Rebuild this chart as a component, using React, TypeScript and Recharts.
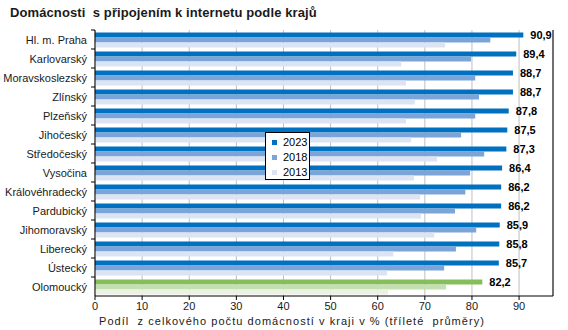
import React from 'react'
import {
  BarChart,
  Bar,
  XAxis,
  YAxis,
  CartesianGrid,
  LabelList,
  Cell,
  ReferenceLine,
} from 'recharts'

const regions = [
  'Hl. m. Praha',
  'Karlovarský',
  'Moravskoslezský',
  'Zlínský',
  'Plzeňský',
  'Jihočeský',
  'Středočeský',
  'Vysočina',
  'Královéhradecký',
  'Pardubický',
  'Jihomoravský',
  'Liberecký',
  'Ústecký',
  'Olomoucký',
]
const values2023 = [90.9, 89.4, 88.7, 88.7, 87.8, 87.5, 87.3, 86.4, 86.2, 86.2, 85.9, 85.8, 85.7, 82.2]
const values2018 = [83.9, 79.8, 80.7, 81.5, 80.7, 77.7, 82.6, 79.6, 78.6, 76.4, 80.9, 76.6, 74.1, 74.5]
const values2013 = [74.3, 65.0, 66.0, 67.9, 66.0, 67.1, 72.6, 67.7, 69.0, 69.2, 72.0, 63.3, 62.0, 62.2]
const xTicks = [0, 10, 20, 30, 40, 50, 60, 70, 80, 90]
const years = ['2023', '2018', '2013']
const highlight = 'Olomoucký'

const colors = { y2023: '#0070C0', y2018: '#7BA5D9', y2013: '#DCE4F4' }
const green = { y2023: '#86BE5C', y2018: '#C4DFB0', y2013: '#EBF2E4' }

const data = regions.map((name, i) => ({
  name,
  y2023: values2023[i],
  y2018: values2018[i],
  y2013: values2013[i],
}))

const font = '"Liberation Sans", Arial, sans-serif'
const bandSize = 266 / regions.length

// category label plus a short tick between categories, like the original
const YTick = ({ x, y, payload }: { x: number; y: number; payload: { value: string } }) => (
  <g>
    <text x={x - 8} y={y + 4} textAnchor="end" fontSize={11} fill="#1a1a1a" fontFamily={font}>
      {payload.value}
    </text>
    <line x1={x - 4} x2={x} y1={y - bandSize / 2} y2={y - bandSize / 2} stroke="#000" />
  </g>
)

const ValueLabel = (props: any) => {
  const { x, y, width, value } = props
  return (
    <text x={x + width + 7} y={y + 7} fontSize={11} fontWeight="bold" fill="#000" fontFamily={font}>
      {value.toFixed(1).replace('.', ',')}
    </text>
  )
}

export default function App() {
  const legendColors = [colors.y2023, colors.y2018, colors.y2013]
  return (
    <div style={{ position: 'absolute', left: 0, top: 0, width: 568, height: 330, background: '#fff' }}>
      <div
        style={{
          position: 'absolute',
          left: 10,
          top: 5,
          fontFamily: font,
          fontSize: 13,
          fontWeight: 'bold',
          color: '#1a1a1a',
          whiteSpace: 'pre',
          letterSpacing: 0.1,
        }}
      >
        {'Domácnosti  s připojením k internetu podle krajů'}
      </div>
      <BarChart
        width={568}
        height={330}
        data={data}
        layout="vertical"
        margin={{ top: 30, right: 15, left: 0, bottom: 0 }}
        barCategoryGap="13%"
        barGap={0}
      >
        <CartesianGrid horizontal={false} stroke="#bfbfbf" />
        <XAxis
          type="number"
          domain={[0, 97.2]}
          ticks={xTicks}
          allowDataOverflow
          height={34}
          axisLine={{ stroke: '#000' }}
          tickLine={{ stroke: '#000' }}
          tickSize={4}
          tick={{ fontSize: 11, fill: '#1a1a1a', fontFamily: font }}
        />
        <XAxis
          xAxisId="top"
          orientation="top"
          type="number"
          domain={[0, 97.2]}
          height={0}
          tick={false}
          tickLine={false}
          axisLine={{ stroke: '#000' }}
        />
        <YAxis
          type="category"
          dataKey="name"
          width={95}
          axisLine={{ stroke: '#000' }}
          tickLine={false}
          tickSize={0}
          tickMargin={0}
          tick={YTick as any}
          interval={0}
        />
        <ReferenceLine x={97.2} stroke="#000" ifOverflow="extendDomain" />
        <Bar dataKey="y2023" isAnimationActive={false}>
          {data.map((d) => (
            <Cell key={d.name} fill={d.name === highlight ? green.y2023 : colors.y2023} />
          ))}
          <LabelList dataKey="y2023" content={ValueLabel} />
        </Bar>
        <Bar dataKey="y2018" isAnimationActive={false}>
          {data.map((d) => (
            <Cell key={d.name} fill={d.name === highlight ? green.y2018 : colors.y2018} />
          ))}
        </Bar>
        <Bar dataKey="y2013" isAnimationActive={false}>
          {data.map((d) => (
            <Cell key={d.name} fill={d.name === highlight ? green.y2013 : colors.y2013} />
          ))}
        </Bar>
      </BarChart>
      <div
        style={{
          position: 'absolute',
          left: 99,
          top: 315,
          fontFamily: font,
          fontSize: 11,
          color: '#1a1a1a',
          whiteSpace: 'pre',
          letterSpacing: 1.05,
        }}
      >
        {'Podíl  z celkového počtu domácností v kraji v % (tříleté  průměry)'}
      </div>
      <div
        style={{
          position: 'absolute',
          left: 265,
          top: 132,
          width: 45,
          height: 48,
          boxSizing: 'border-box',
          border: '1px solid #000',
          background: '#fff',
          padding: '2px 0 0 6px',
          fontFamily: font,
          fontSize: 11,
          color: '#000',
          lineHeight: '15px',
        }}
      >
        {years.map((label, i) => (
          <div key={label} style={{ display: 'flex', alignItems: 'center' }}>
            <span
              style={{
                width: 5,
                height: 5,
                background: legendColors[i],
                marginRight: 6,
                display: 'inline-block',
              }}
            />
            {label}
          </div>
        ))}
      </div>
    </div>
  )
}
